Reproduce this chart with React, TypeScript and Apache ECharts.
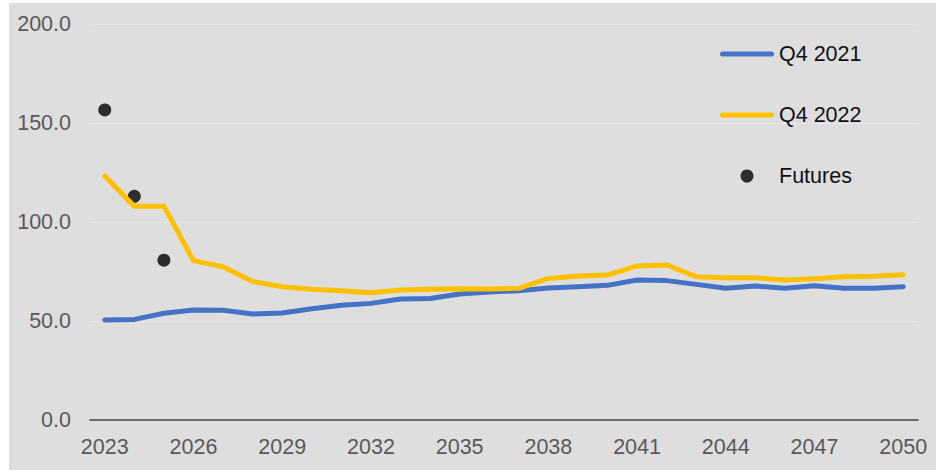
import React, { useEffect, useRef } from "react";
import * as echarts from "echarts";

const years: string[] = [];
for (let y = 2023; y <= 2050; y++) years.push(String(y));

const q42021 = [50.5, 50.8, 53.9, 55.6, 55.4, 53.5, 54.0, 56.2, 57.9, 58.9, 61.1, 61.4, 63.6, 64.6, 65.3, 66.7, 67.3, 68.0, 70.7, 70.4, 68.5, 66.5, 67.7, 66.5, 67.8, 66.5, 66.5, 67.3];
const q42022 = [123.2, 108.0, 108.0, 80.5, 77.4, 69.9, 67.3, 66.0, 65.3, 64.3, 65.7, 66.0, 66.3, 66.2, 66.5, 71.5, 72.7, 73.2, 77.8, 78.3, 72.4, 71.9, 71.9, 70.7, 71.4, 72.4, 72.6, 73.4];
const futures: (number | null)[] = [156.6, 113.0, 80.7];

const lineIcon = "path://M2.5,0H51.5A2.5,2.5,0,0,1,51.5,5H2.5A2.5,2.5,0,0,1,2.5,0Z";

export default function App() {
  const ref = useRef<HTMLDivElement>(null);
  useEffect(() => {
    if (!ref.current) return;
    const chart = echarts.init(ref.current, null, { renderer: "svg" });
    const font = "Arial, 'Liberation Sans', sans-serif";
    chart.setOption({
      animation: false,
      backgroundColor: "transparent",
      textStyle: { fontFamily: font },
      grid: { left: 81, right: 18, top: 21, bottom: 50, containLabel: false },
      legend: {
        orient: "vertical",
        left: 706,
        top: 35,
        itemWidth: 54,
        itemHeight: 13,
        itemGap: 39,
        symbolKeepAspect: true,
        textStyle: { fontSize: 21.5, color: "#111111", fontFamily: font },
        data: [
          { name: "Q4 2021", icon: lineIcon },
          { name: "Q4 2022", icon: lineIcon },
          { name: "Futures", icon: "circle" },
        ],
      },
      xAxis: {
        type: "category",
        data: years,
        boundaryGap: true,
        axisLine: { lineStyle: { color: "#404040", width: 1.5 } },
        axisTick: { show: false },
        axisLabel: { interval: 2, color: "#595959", fontSize: 21.5, margin: 16, fontFamily: font },
        splitLine: { show: false },
      },
      yAxis: {
        type: "value",
        min: 0,
        max: 200,
        interval: 50,
        axisLine: { show: false },
        axisTick: { show: false },
        axisLabel: {
          color: "#595959",
          fontSize: 21.5,
          margin: 19,
          fontFamily: font,
          formatter: (v: number) => v.toFixed(1),
        },
        splitLine: { lineStyle: { color: "#E6E6E6", width: 1 } },
      },
      series: [
        {
          name: "Q4 2021",
          type: "line",
          data: q42021,
          symbol: "none",
          lineStyle: { color: "#4472C4", width: 5, cap: "round", join: "round" },
          itemStyle: { color: "#4472C4" },
        },
        {
          name: "Q4 2022",
          type: "line",
          data: q42022,
          symbol: "none",
          lineStyle: { color: "#FFC000", width: 5, cap: "round", join: "round" },
          itemStyle: { color: "#FFC000" },
        },
        {
          name: "Futures",
          type: "scatter",
          data: futures,
          symbol: "circle",
          symbolSize: 13,
          itemStyle: { color: "#000000" },
        },
      ],
    });
    return () => chart.dispose();
  }, []);

  return (
    <div style={{ position: "fixed", left: 0, top: 0, width: 940, height: 472, background: "#ffffff" }}>
      <div style={{ position: "absolute", left: 9, top: 3, width: 927, height: 467, background: "#DEDEDE" }}>
        <div ref={ref} style={{ width: 927, height: 467 }} />
      </div>
    </div>
  );
}
